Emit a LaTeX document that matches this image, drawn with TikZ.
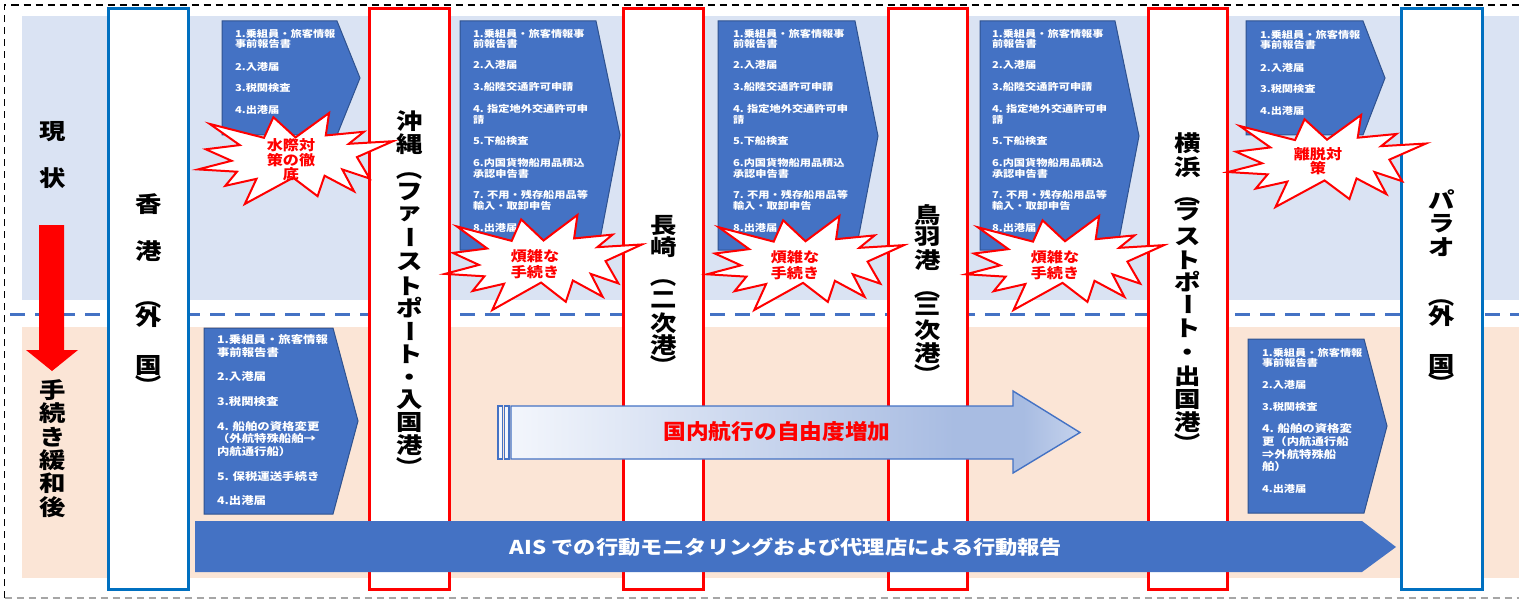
\documentclass[tikz,border=0pt]{standalone}
\usepackage{fontspec}
\newfontfamily\jp{Noto Sans CJK JP}
\definecolor{bandblue}{HTML}{DAE3F3}
\definecolor{bandpeach}{HTML}{FBE5D6}
\definecolor{accent}{HTML}{4472C4}
\definecolor{accentdark}{HTML}{2F528F}
\definecolor{colblue}{HTML}{0070C0}
\definecolor{colred}{HTML}{FF0000}
\definecolor{gA}{HTML}{F3F6FC}
\definecolor{gB}{HTML}{A8BCE2}
\definecolor{gC}{HTML}{C4D2EC}
\definecolor{framegray}{HTML}{A6A6A6}
\pgfdeclarehorizontalshading{gradarrow}{100bp}{color(0bp)=(gA); color(25bp)=(gA); color(64bp)=(gB); color(70bp)=(gB); color(75bp)=(gC); color(100bp)=(gC)}
\newcommand\burst[4]{%
  \begin{scope}[shift={(#1,#2)}, xscale={(#3-#1)/100}, yscale={(#4-#2)/100}]
  \draw[burstline] (50,26.85) -- (67.23,0) -- (65.53,24.65) -- (85.09,20.63) -- (77.32,33.87) -- (100,31) -- (81.51,48.50) -- (88,72) -- (74,62) -- (80,86) -- (64.91,68.93) -- (61.33,91.38) -- (48.76,71.14) -- (24,100) -- (30,72.35) -- (14,80) -- (20,64.52) -- (0,62) -- (17.23,52.51) -- (4,39.88) -- (21.42,35.26) -- (6,12) -- (33.85,27.26) -- (38.67,4.63) -- cycle;
  \end{scope}}
\newcommand\shortlist{1.乗組員・旅客情報/34, 事前報告書/44, 2.入港届/67, 3.税関検査/88, 4.出港届/110}
\newcommand\longlist{1.乗組員・旅客情報事/34, 前報告書/44, 2.入港届/65, 3.船陸交通許可申請/87, 4. 指定地外交通許可申/109, 請/120, 5.下船検査/141, 6.内国貨物船用品積込/163, 承認申告書/174, 7. 不用・残存船用品等/195, 輸入・取卸申告/206, 8.出港届/228}
\begin{document}
\begin{tikzpicture}[x=1pt, y=-1pt,
  every node/.style={inner sep=0pt, outer sep=0pt},
  colbox/.style={fill=white, line width=3pt},
  penta/.style={fill=accent, draw=accentdark, line width=1pt, line join=miter},
  ptxt/.style={anchor=west, text=white, font=\jp\bfseries\fontsize{9.5}{10}\selectfont, xscale=1.18},
  ptxtL/.style={ptxt, font=\jp\bfseries\fontsize{10.5}{11}\selectfont},
  vlab/.style={text=black, font=\jp\bfseries\fontsize{22}{22}\selectfont, xscale=1.2},
  vrot/.style={vlab, rotate=-90},
  burstline/.style={draw=colred, fill=white, line width=2pt, line join=miter, miter limit=10},
  bursttxt/.style={text=colred, align=center, xscale=1.15, font=\jp\bfseries\fontsize{14}{16}\selectfont},
]
\useasboundingbox (0,0) rectangle (1519,599);
% bands
\fill[bandblue] (22,16) rectangle (1519,300);
\fill[bandpeach] (22,327) rectangle (1519,578);
\draw[accent, line width=3pt, dash pattern=on 15pt off 10pt] (10,314) -- (1530,314);
% outer frame
\draw[black, line width=1.3pt, dash pattern=on 7pt off 5pt] (4.5,598) -- (4.5,5) -- (1530,5);
\draw[framegray, line width=1.3pt, dash pattern=on 7pt off 5pt] (4.5,598) -- (1530,598);
% columns
\draw[colbox, draw=colblue] (108.5,8.5) rectangle (188.5,589);
\draw[colbox, draw=colred] (369.5,8.5) rectangle (449.5,589);
\draw[colbox, draw=colred] (623.5,8.5) rectangle (703.5,589);
\draw[colbox, draw=colred] (888.5,8.5) rectangle (967.5,589);
\draw[colbox, draw=colred] (1148.5,8.5) rectangle (1227.5,589);
\draw[colbox, draw=colblue] (1401.5,8.5) rectangle (1482.5,589);
% pentagons (top)
\draw[penta] (222,21) -- (337,21) -- (360,78) -- (337,135) -- (222,135) -- cycle;
\draw[penta] (460,21) -- (596,21) -- (620,135) -- (598,250) -- (460,250) -- cycle;
\draw[penta] (718,21) -- (855,21) -- (878,136) -- (856,250) -- (718,250) -- cycle;
\draw[penta] (980,21) -- (1115,21) -- (1139,136) -- (1117,250) -- (980,250) -- cycle;
\draw[penta] (1246,21) -- (1363,21) -- (1385,78) -- (1363,135) -- (1246,135) -- cycle;
% pentagons (bottom)
\draw[penta] (204,328) -- (333,328) -- (358,421) -- (333,514) -- (204,514) -- cycle;
\draw[penta] (1248,339) -- (1364,339) -- (1387,426) -- (1364,513) -- (1248,513) -- cycle;
% pentagon texts
\foreach \t/\y [count=\i] in \shortlist \node[ptxt] (pa\i) at (235,\y) {\t};
\foreach \t/\y [count=\i] in \longlist \node[ptxt] (pb\i) at (473,\y) {\t};
\foreach \t/\y [count=\i] in \longlist \node[ptxt] (pc\i) at (733,\y) {\t};
\foreach \t/\y [count=\i] in \longlist \node[ptxt] (pd\i) at (992,\y) {\t};
\foreach \t/\y [count=\i] in \shortlist \node[ptxt] (pe\i) at (1260,\y+1) {\t};
\foreach \t/\y [count=\i] in {1.乗組員・旅客情報/340, 事前報告書/353, 2.入港届/377, 3.税関検査/402, 4. 船舶の資格変更/427, （外航特殊船舶→/439, 内航通行船）/452, 5. 保税運送手続き/476, 4.出港届/501}
  \node[ptxtL] (bl\i) at (217,\y) {\t};
\foreach \t/\y [count=\i] in {1.乗組員・旅客情報/353, 事前報告書/363, 2.入港届/385, 3.税関検査/407, 4.出港届/489}
  \node[ptxt] (bra\i) at (1262,\y) {\t};
\foreach \t/\y [count=\i] in {4. 船舶の資格変/429, 更（内航通行船/442, ⇒外航特殊船/455, 舶）/467}
  \node[ptxtL] (brb\i) at (1262,\y) {\t};
% column labels (vertical writing)
\foreach \c/\y/\s/\d [count=\i] in {香/204/vlab/0, 港/251/vlab/0, （/298/vrot/0, 外/317/vlab/0, 国/366/vlab/0, ）/385/vrot/0}
  \node[\s] (hk\i) at (148.5+\d,\y) {\c};
\foreach \c/\y/\s/\d [count=\i] in {沖/121/vlab/0, 縄/144/vlab/0, （/170/vrot/0, フ/192/vlab/0, ァ/214/vlab/0, ー/237/vrot/-3.5, ス/262/vlab/0, ト/286/vlab/0, ポ/308/vlab/0, ー/331/vrot/-3.5, ト/354/vlab/0, ・/380/vlab/0, 入/400/vlab/0, 国/423/vlab/0, 港/445/vlab/0, ）/467/vrot/0}
  \node[\s] (ok\i) at (410+\d,\y) {\c};
\foreach \c/\y/\s/\d [count=\i] in {長/225/vlab/0, 崎/247/vlab/0, （/276/vrot/0, 二/300/vlab/0, 次/323/vlab/0, 港/345/vlab/0, ）/365/vrot/0}
  \node[\s] (ng\i) at (664+\d,\y) {\c};
\foreach \c/\y/\s/\d [count=\i] in {鳥/215/vlab/0, 羽/237/vlab/0, 港/260/vlab/0, （/288/vrot/0, 三/307/vlab/0, 次/330/vlab/0, 港/353/vlab/0, ）/374/vrot/0}
  \node[\s] (tb\i) at (928+\d,\y) {\c};
\foreach \c/\y/\s/\d [count=\i] in {横/143/vlab/0, 浜/167/vlab/0, （/194/vrot/0, ラ/212/vlab/0, ス/237/vlab/0, ト/260/vlab/0, ポ/282/vlab/0, ー/304/vrot/-3.5, ト/328/vlab/0, ・/355/vlab/0, 出/376/vlab/0, 国/400/vlab/0, 港/422/vlab/0, ）/443/vrot/0}
  \node[\s] (yk\i) at (1188+\d,\y) {\c};
\foreach \c/\y/\s/\d [count=\i] in {パ/199/vlab/0, ラ/224/vlab/0, オ/247/vlab/0, （/296/vrot/0, 外/316/vlab/0, 国/365/vlab/0, ）/383/vrot/0}
  \node[\s] (pl\i) at (1442+\d,\y) {\c};
% starbursts
\burst{198}{113}{393}{204}
\burst{445}{215}{642}{310}
\burst{707}{216}{904}{310}
\burst{966}{216}{1164}{310}
\burst{1228}{115}{1426}{207}
\node[bursttxt, font=\jp\bfseries\fontsize{14}{14.5}\selectfont] (s1t) at (291,160) {水際対\\策の徹\\底};
\node[bursttxt] (s2t) at (535,264) {煩雑な\\手続き};
\node[bursttxt] (s3t) at (795,265) {煩雑な\\手続き};
\node[bursttxt] (s4t) at (1055,265) {煩雑な\\手続き};
\node[bursttxt, font=\jp\bfseries\fontsize{14}{14.5}\selectfont] (s5t) at (1318,161) {離脱対\\策};
% gradient arrow
\draw[accent, line width=1.2pt, fill=gA] (498,406) rectangle (502.5,459);
\draw[accent, line width=1.2pt, fill=gA] (504.5,406) rectangle (509,459);
\path[shading=gradarrow, draw=accent, line width=1.4pt] (511,406) -- (1013,406) -- (1013,391) -- (1080,432.5) -- (1013,473) -- (1013,459) -- (511,459) -- cycle;
\node[text=colred, font=\jp\bfseries\fontsize{21}{21}\selectfont, xscale=1.08] (gat) at (777,432) {国内航行の自由度増加};
% AIS bar
\fill[accent] (195,521) -- (1362,521) -- (1396,547) -- (1362,572) -- (195,572) -- cycle;
\node[text=white, font=\jp\bfseries\fontsize{19}{19}\selectfont, xscale=1.17] (ais) at (786,547) {AIS での行動モニタリングおよび代理店による行動報告};
% left side
\node[vlab] (gen1) at (53,132) {現};
\node[vlab] (gen2) at (53,178) {状};
\fill[colred] (39,225) -- (64,225) -- (64,350) -- (78,350) -- (52,371) -- (26,350) -- (39,350) -- cycle;
\foreach \c/\y [count=\i] in {手/390, 続/413, き/437, 緩/460, 和/483, 後/507}
  \node[vlab] (tk\i) at (53,\y) {\c};
\end{tikzpicture}
\end{document}
